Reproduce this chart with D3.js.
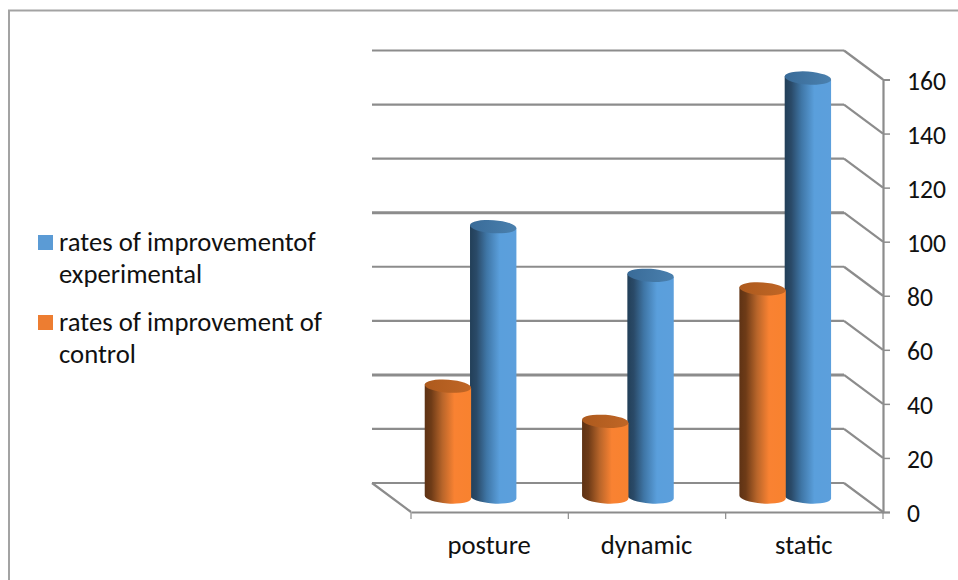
<!DOCTYPE html>
<html>
<head>
<meta charset="utf-8">
<script src="https://cdn.jsdelivr.net/npm/d3@7"></script>
<style>
html,body{margin:0;padding:0;background:#fff;}
svg{display:block;}
text{font-family:Carlito,Calibri,Lato,"Open Sans",sans-serif;fill:#111;}
</style>
</head>
<body>
<svg id="chart" width="958" height="580"></svg>
<script>
const categories = ["posture", "dynamic", "static"];
const experimental = [100, 82, 155];
const control = [41, 28, 77];
const yTicks = [0, 20, 40, 60, 80, 100, 120, 140, 160];
const heavyTicks = [40, 100];
const legendLabels = [
  ["rates of improvementof", "experimental"],
  ["rates of improvement of", "control"]
];

const svg = d3.select("#chart");
const gridColor = "#8c8c8c";

// Plot box: the front floor edge plus an oblique depth offset for the back wall
const frontLeft = 411, frontRight = 883, yBase = 512, yTop = 79.5;
const depthX = 39, depthY = 29;

const x = d3.scaleBand().domain(categories).range([frontLeft, frontRight]);
const y = d3.scaleLinear().domain([0, 160]).range([yBase, yTop]);
const series = d3.scaleBand().domain(["control", "experimental"])
  .range([-46.5, 46.5]);

// Chart frame
svg.append("path").attr("d", "M9,580V10.5H958")
  .attr("fill", "none").attr("stroke", "#a3a3a3").attr("stroke-width", 2);

// Back-wall gridlines folding forward onto the value axis
const walls = svg.append("g");
walls.selectAll("path.side").data(yTicks).join("path")
  .attr("class", "side")
  .attr("fill", "none").attr("stroke", gridColor).attr("stroke-width", 2.2)
  .attr("d", d => d === 0
    ? `M${frontRight},${y(d)}L${frontRight - depthX},${y(d) - depthY}M${frontLeft - depthX},${y(d) - depthY}L${frontLeft},${y(d)}`
    : `M${frontRight},${y(d)}L${frontRight - depthX},${y(d) - depthY}`);
walls.selectAll("path.back").data(yTicks).join("path")
  .attr("class", "back")
  .attr("fill", "none").attr("stroke", gridColor)
  .attr("stroke-width", d => heavyTicks.includes(d) ? 3 : 2.2)
  .attr("d", d => `M${frontRight - depthX},${y(d) - depthY}H${frontLeft - depthX}`);

// Cylinder shading, one gradient each for side and cap
const defs = svg.append("defs");
function sideGradient(id, stops) {
  const g = defs.append("linearGradient").attr("id", id)
    .attr("x1", 0).attr("x2", 1).attr("y1", 0).attr("y2", 0);
  stops.forEach(([o, c]) => g.append("stop").attr("offset", o).attr("stop-color", c));
}
sideGradient("side-experimental", [[0, "#223f58"], [0.14, "#2a4a68"], [0.36, "#3f76a6"], [0.64, "#5a9fdc"], [1, "#5c9fdc"]]);
sideGradient("side-control", [[0, "#5e3214"], [0.14, "#6e3b17"], [0.38, "#b8652a"], [0.64, "#f98232"], [1, "#f8822f"]]);
sideGradient("cap-experimental", [[0, "#396b98"], [1, "#4a80ae"]]);
sideGradient("cap-control", [[0, "#ad5a1d"], [1, "#c06626"]]);

// Cylinders stand halfway into the depth of the floor; the oblique view tilts their ends
const bw = series.bandwidth();
const rx = bw / 2, ry = 6.5, tilt = 4;
const ex = rx * Math.cos(tilt * Math.PI / 180), ey = rx * Math.sin(tilt * Math.PI / 180);
const barBase = yBase - 15;
const overlap = 1.2;
const rows = [
  { key: "experimental", values: experimental, shift: -overlap },
  { key: "control", values: control, shift: 0 }
];
rows.forEach(row => {
  const g = svg.append("g").selectAll("g").data(categories).join("g")
    .attr("transform", c => `translate(${x(c) + x.bandwidth() / 2 - depthX / 2 + 1 + series(row.key) + rx + row.shift},0)`);
  g.append("path")
    .attr("fill", `url(#side-${row.key})`)
    .attr("d", (c, i) => {
      const t = barBase - (yBase - y(row.values[i]));
      return `M${-ex},${t - ey}V${barBase - ey}A${rx},${ry} ${tilt} 0 0 ${ex},${barBase + ey}V${t + ey}Z`;
    });
  g.append("ellipse")
    .attr("rx", rx).attr("ry", ry)
    .attr("transform", (c, i) => `translate(0,${barBase - (yBase - y(row.values[i]))}) rotate(${tilt})`)
    .attr("fill", `url(#cap-${row.key})`);
});

// Value axis on the right
const yAxis = svg.append("g").attr("transform", `translate(${frontRight},0)`)
  .call(d3.axisRight(y).tickValues(yTicks).tickSize(7).tickPadding(17));
yAxis.select(".domain").attr("stroke", gridColor).attr("stroke-width", 2.2);
yAxis.selectAll(".tick line").attr("stroke", gridColor).attr("stroke-width", 1.5);
yAxis.selectAll("text").attr("y", 1.5).style("font-size", "25.6px").style("fill", "#111");

// Category axis along the front of the floor
const xAxis = svg.append("g").attr("transform", `translate(0,${yBase})`)
  .call(d3.axisBottom(x).tickValues([]).tickSize(0));
xAxis.select(".domain").attr("stroke", gridColor).attr("stroke-width", 2.2);
xAxis.selectAll(".sep").data(d3.range(categories.length + 1)).join("line")
  .attr("class", "sep")
  .attr("x1", i => frontLeft + i * x.bandwidth())
  .attr("x2", i => frontLeft + i * x.bandwidth())
  .attr("y1", 0).attr("y2", 7)
  .attr("stroke", gridColor).attr("stroke-width", 1.2);
svg.append("g").selectAll("text").data(categories).join("text")
  .attr("x", c => x(c) + x.bandwidth() / 2 - 0.5)
  .attr("y", 554)
  .attr("text-anchor", "middle")
  .style("font-size", "26.7px")
  .text(c => c);

// Legend
const legendColors = ["#5b9bd5", "#ed7d31"];
const legendY = [241, 321];
const legend = svg.append("g").selectAll("g").data(legendLabels).join("g");
legend.append("rect")
  .attr("x", 38).attr("y", (d, i) => legendY[i] - 6)
  .attr("width", 15).attr("height", 15)
  .attr("fill", (d, i) => legendColors[i]);
legend.each(function (lines, i) {
  d3.select(this).selectAll("text").data(lines).join("text")
    .attr("x", 59)
    .attr("y", (l, j) => legendY[i] + 10 + j * 32.3)
    .style("font-size", "26.7px")
    .text(l => l);
});
</script>
</body>
</html>
